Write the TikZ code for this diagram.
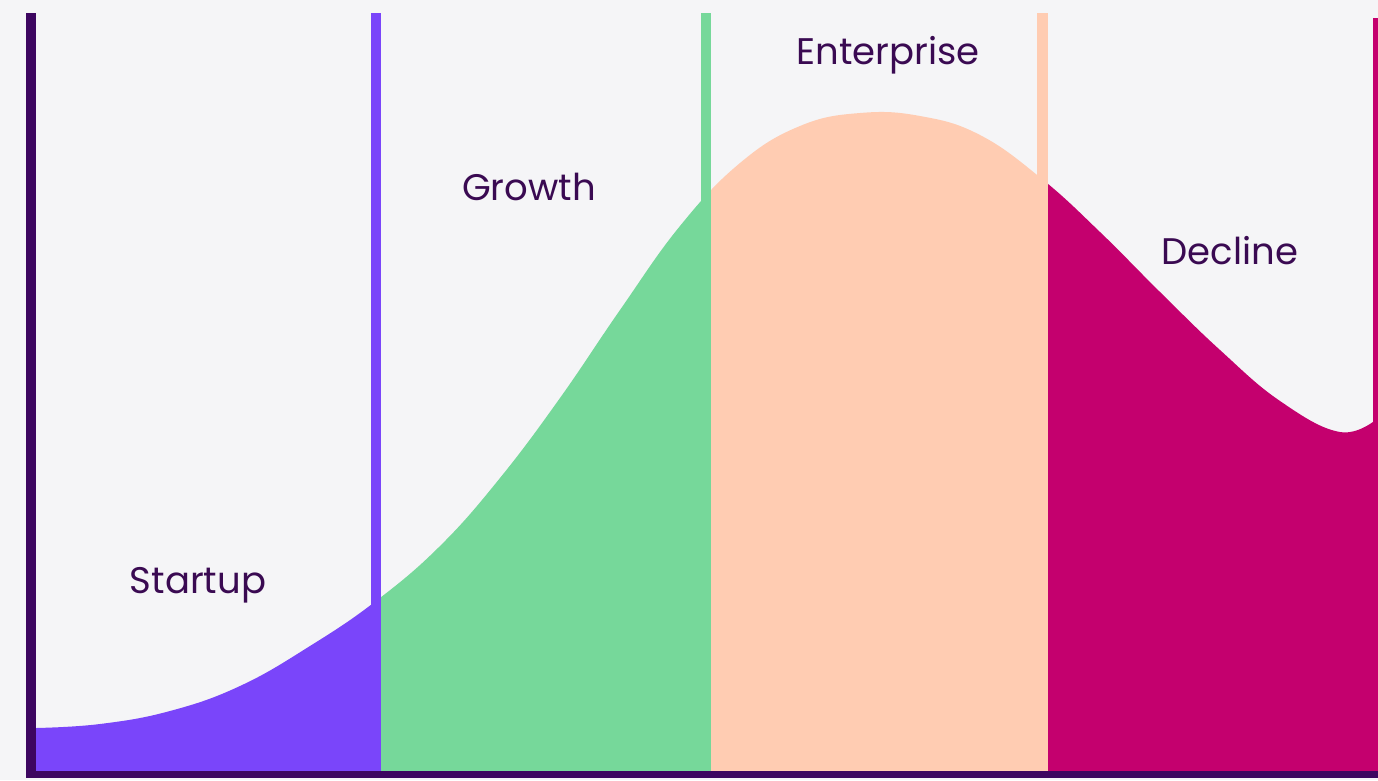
\documentclass[tikz,border=0pt]{standalone}
\usepackage{fontspec}
\setmainfont{Poppins}
\definecolor{bg}{HTML}{F5F5F7}
\definecolor{axis}{HTML}{3D0660}
\definecolor{cstart}{HTML}{7A45FA}
\definecolor{cgrowth}{HTML}{76D89A}
\definecolor{center}{HTML}{FFCCB2}
\definecolor{cdecl}{HTML}{C4006E}
\definecolor{txt}{HTML}{3A0A52}
\tikzset{lab/.style={text=txt,font=\fontsize{37}{40}\selectfont,inner sep=0pt}}
\begin{document}
\begin{tikzpicture}[x=1pt,y=-1pt]
\fill[bg] (0,0) rectangle (1378,780);
\useasboundingbox (0,0) rectangle (1378,780);
\begin{scope}
\clip[smooth,tension=0.7] plot coordinates {(36,728) (100,724) (170,711) (240,686) (310,646) (376,601) (440,546) (500,478) (560,398) (620,310) (680,226) (740,163) (800,126) (860,113) (920,116) (980,135) (1042,179) (1100,232) (1160,292) (1220,350) (1280,401) (1340,432) (1378,418)} -- (1378,772) -- (36,772) -- cycle;
\fill[cstart] (36,0) rectangle (381,780);
\fill[cgrowth] (381,0) rectangle (711,780);
\fill[center] (711,0) rectangle (1048,780);
\fill[cdecl] (1048,0) rectangle (1378,780);
\end{scope}
\fill[cstart] (371,13) rectangle (381,772);
\fill[cgrowth] (701,13) rectangle (711,772);
\fill[center] (1037,13) rectangle (1048,772);
\fill[cdecl] (1373,18) rectangle (1378,772);
\fill[axis] (26,13) rectangle (36,778);
\fill[axis] (26,771) rectangle (1378,778);
\node[lab] (startup) at (198,585) {Startup};
\node[lab] (growth) at (529,187) {Growth};
\node[lab] (enterprise) at (888,55) {Enterprise};
\node[lab] (decline) at (1230,251) {Decline};
\end{tikzpicture}
\end{document}
